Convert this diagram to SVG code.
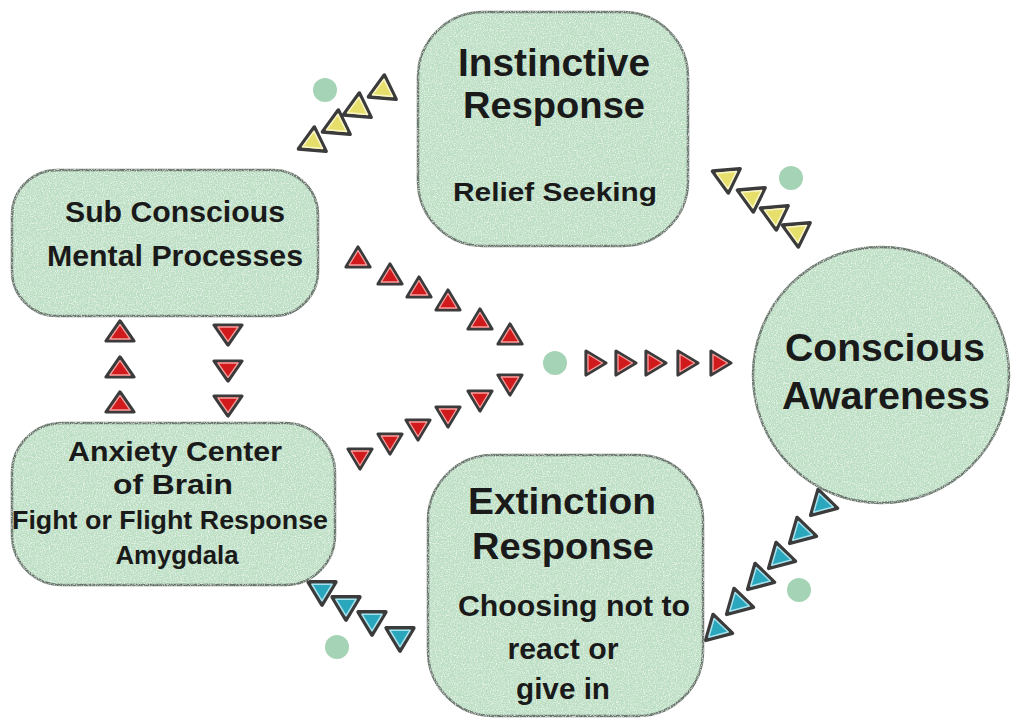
<svg xmlns="http://www.w3.org/2000/svg" xmlns:xlink="http://www.w3.org/1999/xlink" width="1021" height="721" viewBox="0 0 1021 721">
<style>
.node{fill:#bcdfc4;stroke:#66766a;stroke-width:2.5;filter:url(#tex)}
.t{font-family:"Liberation Sans",Arial,sans-serif;font-weight:bold;fill:#1a1a1a;text-anchor:middle}
.red{fill:#d11a1c;stroke:#f3a0a0}
.yel{fill:#e6df6c;stroke:#fbf6c8}
.teal{fill:#2aa6bd;stroke:#a8e2ec}
.dot{fill:#a5d3b5}
</style>
<defs>
<filter id="tex" x="-2%" y="-2%" width="104%" height="104%">
<feTurbulence type="fractalNoise" baseFrequency="0.85" numOctaves="2" seed="4" result="n"/>
<feColorMatrix in="n" type="matrix" values="0 0 0 0 1  0 0 0 0 1  0 0 0 0 1  0 0 0 1.8 -0.8" result="w"/>
<feComposite in="w" in2="SourceGraphic" operator="in" result="wc"/>
<feMerge><feMergeNode in="SourceGraphic"/><feMergeNode in="wc"/></feMerge>
</filter>
<g id="tri">
<polygon points="0,-13 12,7 -12,7" stroke="#3b3b3b" stroke-width="3.2" stroke-linejoin="round"/>
<polygon points="0,-9.5 8.8,5 -8.8,5" fill="none" stroke-width="1.3" stroke-linejoin="round"/>
</g>
</defs>
<rect width="1021" height="721" fill="#ffffff"/>

<g id="connectors">
<g class="yel">
<use href="#tri" transform="translate(313,142) rotate(5) scale(1.15)"/>
<use href="#tri" transform="translate(337,125) rotate(5) scale(1.15)"/>
<use href="#tri" transform="translate(358,108) rotate(5) scale(1.15)"/>
<use href="#tri" transform="translate(383,90) rotate(5) scale(1.15)"/>
<use href="#tri" transform="translate(727,178) rotate(175) scale(1.15)"/>
<use href="#tri" transform="translate(752,197) rotate(175) scale(1.15)"/>
<use href="#tri" transform="translate(775,215) rotate(175) scale(1.15)"/>
<use href="#tri" transform="translate(797,232) rotate(175) scale(1.15)"/>
</g>
<g class="red">
<use href="#tri" transform="translate(358,260)"/>
<use href="#tri" transform="translate(390,277)"/>
<use href="#tri" transform="translate(419,290)"/>
<use href="#tri" transform="translate(448,303)"/>
<use href="#tri" transform="translate(480,322)"/>
<use href="#tri" transform="translate(510,337)"/>
<use href="#tri" transform="translate(360,456) rotate(180)"/>
<use href="#tri" transform="translate(390,441) rotate(180)"/>
<use href="#tri" transform="translate(418,427) rotate(180)"/>
<use href="#tri" transform="translate(448,414) rotate(180)"/>
<use href="#tri" transform="translate(480,398) rotate(180)"/>
<use href="#tri" transform="translate(510,382) rotate(180)"/>
<use href="#tri" transform="translate(593,363) rotate(90)"/>
<use href="#tri" transform="translate(623,363) rotate(90)"/>
<use href="#tri" transform="translate(653,363) rotate(90)"/>
<use href="#tri" transform="translate(685,363) rotate(90)"/>
<use href="#tri" transform="translate(718,363) rotate(90)"/>
<use href="#tri" transform="translate(120,334) scale(1.15,1)"/>
<use href="#tri" transform="translate(120,370) scale(1.15,1)"/>
<use href="#tri" transform="translate(120,405) scale(1.15,1)"/>
<use href="#tri" transform="translate(228,332) rotate(180) scale(1.15,1)"/>
<use href="#tri" transform="translate(228,368) rotate(180) scale(1.15,1)"/>
<use href="#tri" transform="translate(228,403) rotate(180) scale(1.15,1)"/>
</g>
<g class="teal">
<use href="#tri" transform="translate(322,590) rotate(180) scale(1.15)"/>
<use href="#tri" transform="translate(346,605) rotate(180) scale(1.15)"/>
<use href="#tri" transform="translate(372,620) rotate(180) scale(1.15)"/>
<use href="#tri" transform="translate(400,636) rotate(180) scale(1.15)"/>
<use href="#tri" transform="translate(822,504) rotate(-15) scale(1.15)"/>
<use href="#tri" transform="translate(801,532) rotate(-15) scale(1.15)"/>
<use href="#tri" transform="translate(780,557) rotate(-15) scale(1.15)"/>
<use href="#tri" transform="translate(759,578) rotate(-15) scale(1.15)"/>
<use href="#tri" transform="translate(738,603) rotate(-15) scale(1.15)"/>
<use href="#tri" transform="translate(717,629) rotate(-15) scale(1.15)"/>
</g>
<circle class="dot" cx="325" cy="90" r="12"/>
<circle class="dot" cx="791" cy="178" r="12"/>
<circle class="dot" cx="555" cy="363" r="12"/>
<circle class="dot" cx="337" cy="647" r="12"/>
<circle class="dot" cx="799" cy="590" r="12"/>
</g>

<g id="sub-conscious">
<rect class="node" x="12" y="170" width="306" height="146" rx="45" ry="45"/>
<text class="t" x="175" y="222" font-size="29" textLength="220" lengthAdjust="spacingAndGlyphs">Sub Conscious</text>
<text class="t" x="175" y="266" font-size="29" textLength="256" lengthAdjust="spacingAndGlyphs">Mental Processes</text>
</g>

<g id="anxiety-center">
<rect class="node" x="12" y="423" width="323" height="162" rx="50" ry="50"/>
<text class="t" x="175" y="461" font-size="28" textLength="214" lengthAdjust="spacingAndGlyphs">Anxiety Center</text>
<text class="t" x="173" y="494" font-size="28" textLength="120" lengthAdjust="spacingAndGlyphs">of Brain</text>
<text class="t" x="170" y="529" font-size="25" textLength="316" lengthAdjust="spacingAndGlyphs">Fight or Flight Response</text>
<text class="t" x="177" y="564" font-size="25" textLength="123" lengthAdjust="spacingAndGlyphs">Amygdala</text>
</g>

<g id="instinctive-response">
<rect class="node" x="418" y="12" width="270" height="234" rx="65" ry="65"/>
<text class="t" x="554" y="76" font-size="38" textLength="192" lengthAdjust="spacingAndGlyphs">Instinctive</text>
<text class="t" x="554" y="118" font-size="37" textLength="182" lengthAdjust="spacingAndGlyphs">Response</text>
<text class="t" x="555" y="201" font-size="26" textLength="204" lengthAdjust="spacingAndGlyphs">Relief Seeking</text>
</g>

<g id="extinction-response">
<rect class="node" x="428" y="455" width="275" height="261" rx="65" ry="65"/>
<text class="t" x="562" y="514" font-size="36" textLength="188" lengthAdjust="spacingAndGlyphs">Extinction</text>
<text class="t" x="563" y="559" font-size="36" textLength="182" lengthAdjust="spacingAndGlyphs">Response</text>
<text class="t" x="574" y="616" font-size="29" textLength="232" lengthAdjust="spacingAndGlyphs">Choosing not to</text>
<text class="t" x="563" y="659" font-size="29" textLength="111" lengthAdjust="spacingAndGlyphs">react or</text>
<text class="t" x="563" y="699" font-size="29" textLength="94" lengthAdjust="spacingAndGlyphs">give in</text>
</g>

<g id="conscious-awareness">
<circle class="node" cx="881" cy="375" r="128"/>
<text class="t" x="885" y="361" font-size="38" textLength="200" lengthAdjust="spacingAndGlyphs">Conscious</text>
<text class="t" x="886" y="409" font-size="38" textLength="208" lengthAdjust="spacingAndGlyphs">Awareness</text>
</g>
</svg>
